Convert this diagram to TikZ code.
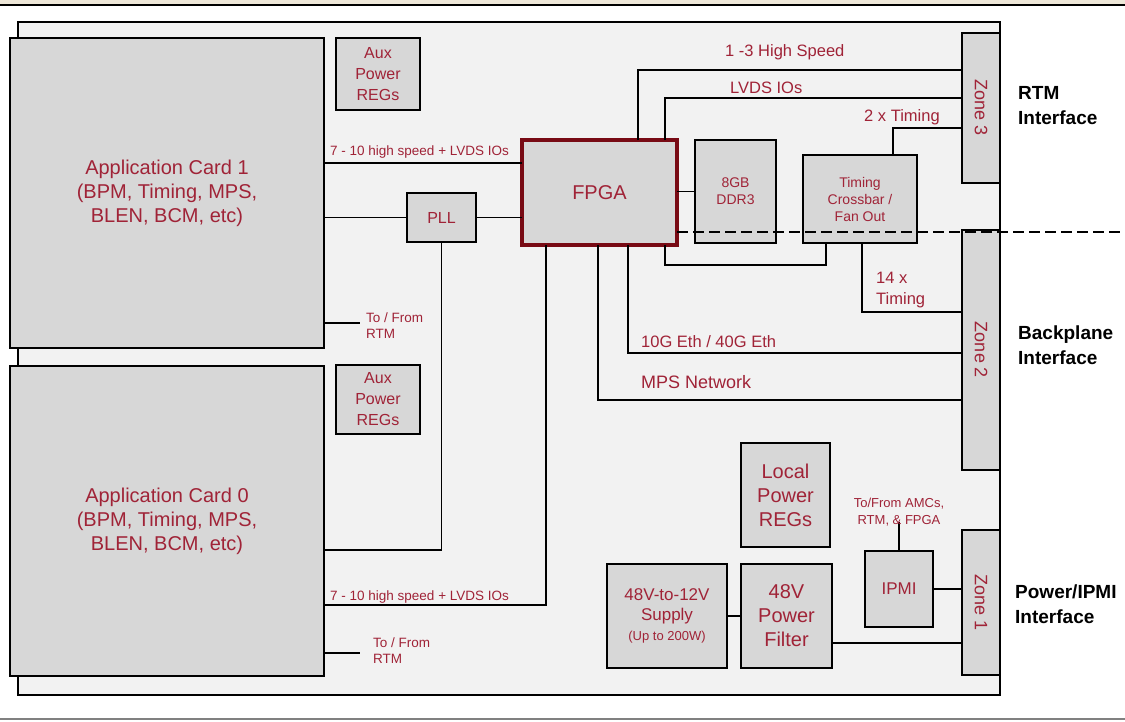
\documentclass[tikz,border=0pt]{standalone}
\usepackage{fontspec}
\setmainfont{Liberation Sans}
\definecolor{lbl}{RGB}{160,35,55}
\definecolor{boxfill}{RGB}{215,215,215}
\definecolor{boardfill}{RGB}{242,242,242}
\definecolor{fpgared}{RGB}{120,10,20}
\definecolor{topband}{RGB}{238,231,216}
\newcommand{\fsz}[2]{\fontsize{#1}{#2}\selectfont}
\tikzset{
  blk/.style={draw=black, line width=2.5pt, fill=boxfill, inner sep=0pt, outer sep=0pt, align=center, text=lbl},
  wire/.style={draw=black, line width=1.6pt},
  lbltext/.style={text=lbl, inner sep=0pt, align=left},
  ctrtext/.style={text=lbl, inner sep=0pt, align=center},
  iface/.style={text=black, inner sep=0pt, align=left, font=\bfseries\fsz{19}{25}},
  zonetxt/.style={text=lbl, inner sep=0pt, rotate=-90, font=\fsz{18}{20}},
}
\begin{document}
\begin{tikzpicture}[x=1pt,y=-1pt]
\useasboundingbox (0,0) rectangle (1125,721);
\fill[white] (0,0) rectangle (1125,721);
\fill[topband] (0,0) rectangle (1125,5);
\draw[black, line width=2pt] (0,5) -- (1125,5);
\draw[gray, line width=2pt] (0,719) -- (1125,719);
% board
\draw[line width=2.5pt, fill=boardfill] (18,22) rectangle (1000,695);
% blocks
\node[blk, minimum width=314pt, minimum height=310pt, font=\fsz{20}{24}] (app1) at (167,193) {Application Card 1\\(BPM, Timing, MPS,\\BLEN, BCM, etc)};
\node[blk, minimum width=314pt, minimum height=310pt, font=\fsz{20}{24}] (app0) at (167,521) {Application Card 0\\(BPM, Timing, MPS,\\BLEN, BCM, etc)};
\node[blk, minimum width=84pt, minimum height=72pt, font=\fsz{16}{21}] (aux1) at (378,74) {Aux\\Power\\REGs};
\node[blk, minimum width=84pt, minimum height=69pt, font=\fsz{16}{21}] (aux0) at (378,399.5) {Aux\\Power\\REGs};
\node[blk, minimum width=69pt, minimum height=49pt, font=\fsz{16}{20}] (pll) at (441.5,217.5) {PLL};
\node[blk, draw=fpgared, line width=4pt, minimum width=155pt, minimum height=105pt, font=\fsz{20}{24}] (fpga) at (599.5,192.5) {FPGA};
\node[blk, minimum width=81pt, minimum height=103pt, font=\fsz{14}{17}] (ddr) at (735.5,191.5) {8GB\\DDR3};
\node[blk, minimum width=114pt, minimum height=88pt, font=\fsz{14}{17}] (tim) at (860,199) {Timing\\Crossbar /\\Fan Out};
\node[blk, minimum width=38pt, minimum height=150pt] (z3) at (981,108) {};
\node[blk, minimum width=38pt, minimum height=240pt] (z2) at (981,350) {};
\node[blk, minimum width=38pt, minimum height=145pt] (z1) at (981,602.5) {};
\node[zonetxt] at (z3) {Zone 3};
\node[zonetxt] at (z2) {Zone 2};
\node[zonetxt] at (z1) {Zone 1};
\node[blk, minimum width=89pt, minimum height=104pt, font=\fsz{20}{24}] (lpr) at (785.5,495) {Local\\Power\\REGs};
\node[blk, minimum width=68pt, minimum height=76pt, font=\fsz{17}{20}] (ipmi) at (899,589) {IPMI};
\node[blk, minimum width=91pt, minimum height=104pt, font=\fsz{20}{24}] (filt) at (786.5,616) {48V\\Power\\Filter};
\node[blk, minimum width=120pt, minimum height=104pt, font=\fsz{17}{20}] (sup) at (667,616) {48V-to-12V\\Supply\\{\fsz{13}{15}(Up to 200W)}};
% free ends
\coordinate (r1) at (360,323);
\coordinate (r0) at (360,653);
\coordinate (ipmiup) at (899,522);
% connectors
\draw[wire] (app1.east |- 0,163) -- (fpga.west |- 0,163);
\draw[wire] (app1.east |- pll.west) -- (pll.west);
\draw[wire] (pll.east) -- (fpga.west |- pll.east);
\draw[wire] (pll.south) -- (pll.south |- 0,550) -- (app0.east |- 0,550);
\draw[wire] (app1.east |- r1) -- (r1);
\draw[wire] (app0.east |- 0,605) -| ([xshift=24pt]fpga.south west);
\draw[wire] (app0.east |- r0) -- (r0);
\draw[wire] ([xshift=116pt]fpga.north west) |- (z3.west |- 0,70);
\draw[wire] ([xshift=143pt]fpga.north west) |- (z3.west |- 0,98);
\draw[wire] (fpga.east |- ddr.west) -- (ddr.west);
\draw[wire] ([xshift=90pt]tim.north west) |- (z3.west |- 0,128);
\draw[wire] ([xshift=143pt]fpga.south west) -- ++(0,20) -| ([xshift=23pt]tim.south west);
\draw[wire] ([xshift=59pt]tim.south west) |- (z2.west |- 0,312);
\draw[wire] ([xshift=106pt]fpga.south west) |- (z2.west |- 0,353);
\draw[wire] ([xshift=76pt]fpga.south west) |- (z2.west |- 0,400);
\draw[wire] (ipmi.east) -- (z1.west |- ipmi.east);
\draw[wire] (ipmi.north) -- (ipmiup);
\draw[wire] (sup.east) -- (filt.west);
\draw[wire] (filt.east |- 0,643) -- (z1.west |- 0,643);
% dashed boundary
\draw[black, line width=2pt, dash pattern=on 11pt off 5pt] (fpga.east |- 0,232) -- (1125,232);
% labels
\node[lbltext, anchor=west, font=\fsz{13.5}{16}] at (330,152) {7 - 10 high speed + LVDS IOs};
\node[lbltext, anchor=west, font=\fsz{13.5}{16}] at (330,597) {7 - 10 high speed + LVDS IOs};
\node[lbltext, anchor=west, font=\fsz{13.5}{16}] at (366,326) {To / From\\RTM};
\node[lbltext, anchor=west, font=\fsz{13.5}{16}] at (373,651) {To / From\\RTM};
\node[lbltext, anchor=west, font=\fsz{16.5}{20}] at (725,52) {1 -3 High Speed};
\node[lbltext, anchor=west, font=\fsz{16.5}{20}] at (730,88) {LVDS IOs};
\node[lbltext, anchor=west, font=\fsz{16.5}{20}] at (864,117) {2 x Timing};
\node[lbltext, anchor=west, font=\fsz{16.5}{21}] at (876,290) {14 x\\Timing};
\node[lbltext, anchor=west, font=\fsz{16.5}{20}] at (641,342) {10G Eth / 40G Eth};
\node[lbltext, anchor=west, font=\fsz{18}{20}] at (641,382) {MPS Network};
\node[ctrtext, anchor=south, font=\fsz{13}{17}] at ([yshift=-4pt]ipmiup) {To/From AMCs,\\RTM, \& FPGA};
\node[iface, anchor=west] at (1018,106) {RTM\\Interface};
\node[iface, anchor=west] at (1018,345) {Backplane\\Interface};
\node[iface, anchor=west] at (1015,604) {Power/IPMI\\Interface};
\end{tikzpicture}
\end{document}
